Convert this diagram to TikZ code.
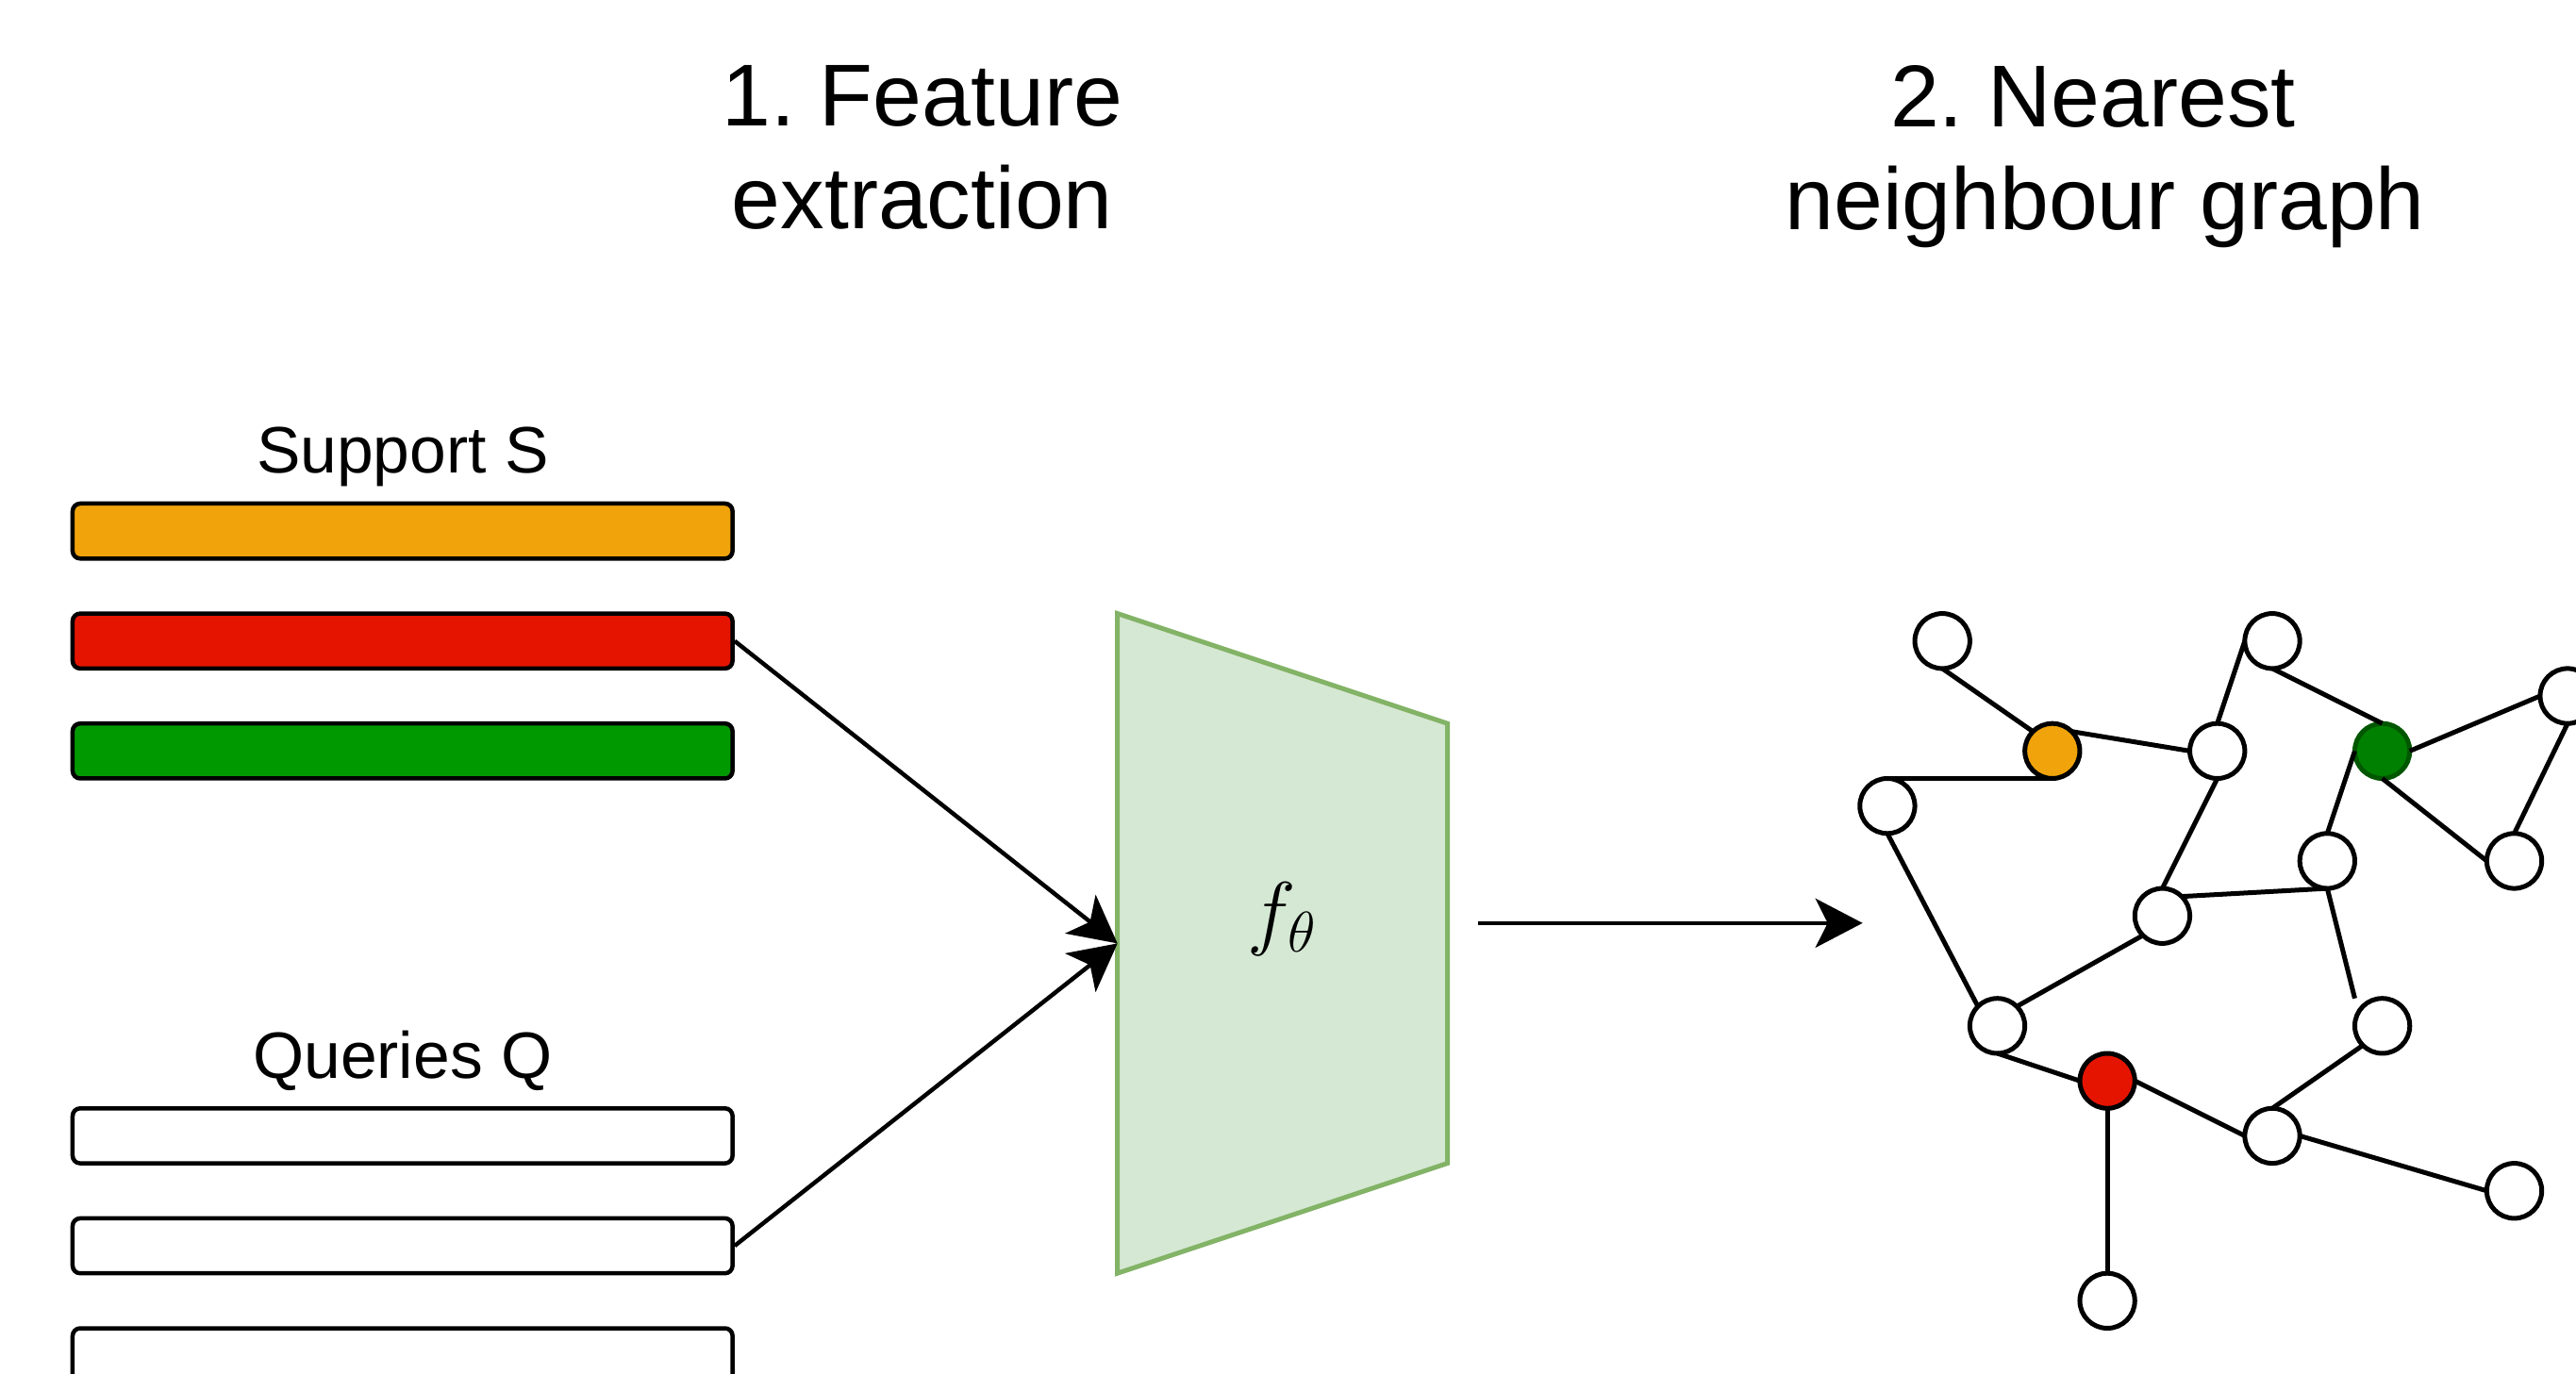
\documentclass[tikz,border=0pt]{standalone}
\usepackage{fontspec}
\setmainfont{Liberation Sans}
\usetikzlibrary{arrows.meta}
\frenchspacing

\definecolor{barorange}{HTML}{F0A30A}
\definecolor{barred}{HTML}{E51400}
\definecolor{bargreen}{HTML}{009900}
\definecolor{nodegreen}{HTML}{008000}
\definecolor{nodegreenline}{HTML}{005700}
\definecolor{netfill}{HTML}{D5E8D4}
\definecolor{netline}{HTML}{82B366}

\tikzset{
  titletext/.style={inner sep=0pt, anchor=north, align=center,
    font=\fontsize{26.5}{31}\selectfont},
  settext/.style={inner sep=0pt, anchor=base,
    font=\fontsize{19.8}{23}\selectfont},
  bar/.style={draw=black, line width=0.45mm, rounded corners=0.8mm,
    minimum width=6.996cm, minimum height=0.583cm, inner sep=0pt},
  feat/.style={draw=netline, fill=netfill, line width=0.5mm, line join=miter},
  conn/.style={line width=0.45mm,
    -{Stealth[length=5mm, width=5.2mm, inset=1.3mm]}},
  vertex/.style={circle, draw=black, fill=white, line width=0.5mm,
    minimum size=0.583cm, inner sep=0pt, outer sep=0pt},
  edge/.style={line width=0.5mm},
}

\begin{document}
\begin{tikzpicture}[x=0.583cm, y=-0.583cm]
  \useasboundingbox (-1.3208,-9.1595) rectangle (45.5232,15.8319);

  % headings
  \node[titletext] (h1) at (15.45,-7.98) {1. Feature\\extraction};
  \node[titletext] (h2) at (36.96,-7.98) {2. Nearest\kern.278em\\neighbour graph};

  % support and query sets
  \node[settext] (lblS) at (6,-0.549) {Support S};
  \node[bar, fill=barorange] (s1) at (6,0.5) {};
  \node[bar, fill=barred]    (s2) at (6,2.5) {};
  \node[bar, fill=bargreen]  (s3) at (6,4.5) {};

  \node[settext] (lblQ) at (6,10.45) {Queries Q};
  \node[bar, fill=white] (q1) at (6,11.5) {};
  \node[bar, fill=white] (q2) at (6,13.5) {};
  \node[bar, fill=white] (q3) at (6,15.5) {};

  % feature extractor
  \draw[feat] (19,2) -- (25,4) -- (25,12) -- (19,14) -- cycle;
  \node (f) at (22,7.55) {\fontsize{25}{30}\selectfont$f_\theta$};
  \coordinate (fin) at (19,8);
  \coordinate (fout) at (25.55,7.63);
  \coordinate (gin) at (32.55,7.63);

  \draw[conn] (s2.east) -- (fin);
  \draw[conn] (q2.east) -- (fin);
  \draw[conn] (fout) -- (gin);

  % graph vertices
  \node[vertex] (n1)  at (34,2.5) {};
  \node[vertex, fill=barorange] (nO) at (36,4.5) {};
  \node[vertex] (n3)  at (33,5.5) {};
  \node[vertex] (n4)  at (39,4.5) {};
  \node[vertex] (n5)  at (40,2.5) {};
  \node[vertex, fill=nodegreen, draw=nodegreenline] (nG) at (42,4.5) {};
  \node[vertex] (n7)  at (45.37,3.5) {};
  \node[vertex] (n8)  at (41,6.5) {};
  \node[vertex] (n9)  at (44.4,6.5) {};
  \node[vertex] (n10) at (38,7.5) {};
  \node[vertex] (n11) at (35,9.5) {};
  \node[vertex, fill=barred] (nR) at (37,10.5) {};
  \node[vertex] (n13) at (42,9.5) {};
  \node[vertex] (n14) at (40,11.5) {};
  \node[vertex] (n15) at (44.4,12.5) {};
  \node[vertex] (n16) at (37,14.5) {};
  \coordinate (n13nw) at (41.5,9.0);

  % graph edges
  \draw[edge] (n1.south) -- (nO.north west);
  \draw[edge] (nO.north east) -- (n4.west);
  \draw[edge] (n3.north) -- (nO.south);
  \draw[edge] (n4.north) -- (n5.west);
  \draw[edge] (n5.south) -- (nG.north);
  \draw[edge] (nG.east) -- (n7.west);
  \draw[edge] (nG.south) -- (n9.west);
  \draw[edge] (n7.south) -- (n9.north);
  \draw[edge] (nG.west) -- (n8.north);
  \draw[edge] (n4.south) -- (n10.north);
  \draw[edge] (n10.north east) -- (n8.south);
  \draw[edge] (n8.south) -- (n13nw);
  \draw[edge] (n10.south west) -- (n11.north east);
  \draw[edge] (n3.south) -- (n11.north west);
  \draw[edge] (n11.south) -- (nR.west);
  \draw[edge] (nR.east) -- (n14.west);
  \draw[edge] (nR.south) -- (n16.north);
  \draw[edge] (n14.north) -- (n13.south west);
  \draw[edge] (n14.east) -- (n15.west);
\end{tikzpicture}
\end{document}
